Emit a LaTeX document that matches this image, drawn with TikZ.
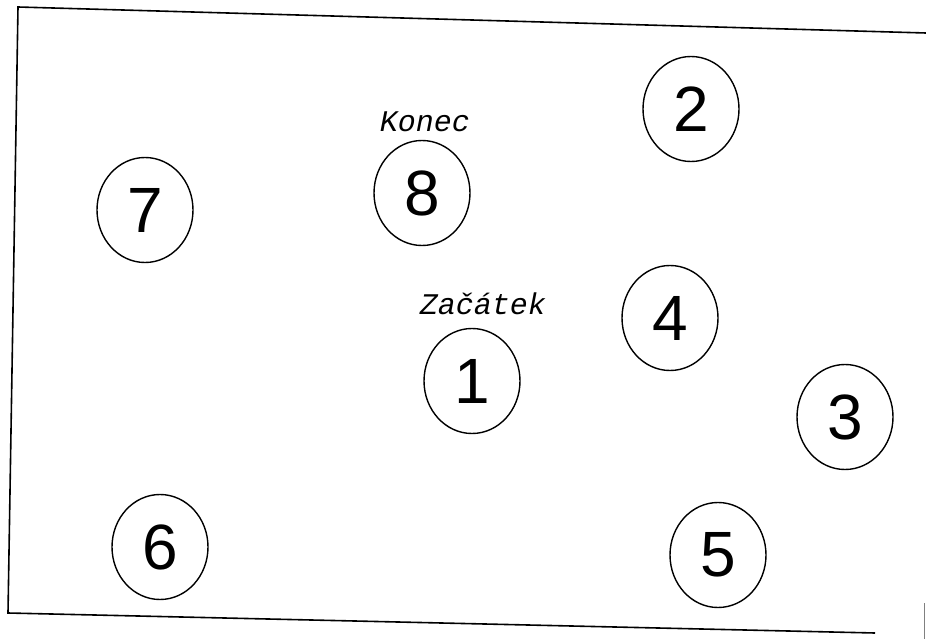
\documentclass[tikz,border=0pt]{standalone}
\usepackage{fontspec}
\newfontfamily\digitfont{Liberation Sans}
\newfontfamily\labelfont{Liberation Mono}
\usetikzlibrary{shapes.geometric}

\begin{document}
\begin{tikzpicture}[x=1pt,y=-1pt,
    place/.style={draw,ellipse,line width=1.4pt,inner sep=0pt,
      minimum width=96pt,minimum height=105pt,font=\digitfont\fontsize{64}{64}\selectfont},
    tag/.style={font=\labelfont\itshape\fontsize{30}{30}\selectfont}]
  \useasboundingbox (0,0) rectangle (926,639);
  % frame of the scanned sheet
  \coordinate (tr) at (926,33);
  \coordinate (tl) at (18,7);
  \coordinate (bl) at (8,613);
  \coordinate (br) at (875,633);
  \draw[line width=1.6pt] (tr) -- (tl) -- (bl) -- (br);
  \draw[line width=0.6pt,gray] (924,603) -- (924,639);
  % places
  \node[place] (n1) at (472,381) {1};
  \node[place] (n2) at (691,109) {2};
  \node[place] (n3) at (845,417) {3};
  \node[place] (n4) at (670,318) {4};
  \node[place] (n5) at (718,555) {5};
  \node[place] (n6) at (160,547) {6};
  \node[place] (n7) at (145,210) {7};
  \node[place] (n8) at (422,193) {8};
  % start and end
  \node[tag] (end) at (425,122) {Konec};
  \node[tag] (start) at (483,304) {Začátek};
\end{tikzpicture}
\end{document}
